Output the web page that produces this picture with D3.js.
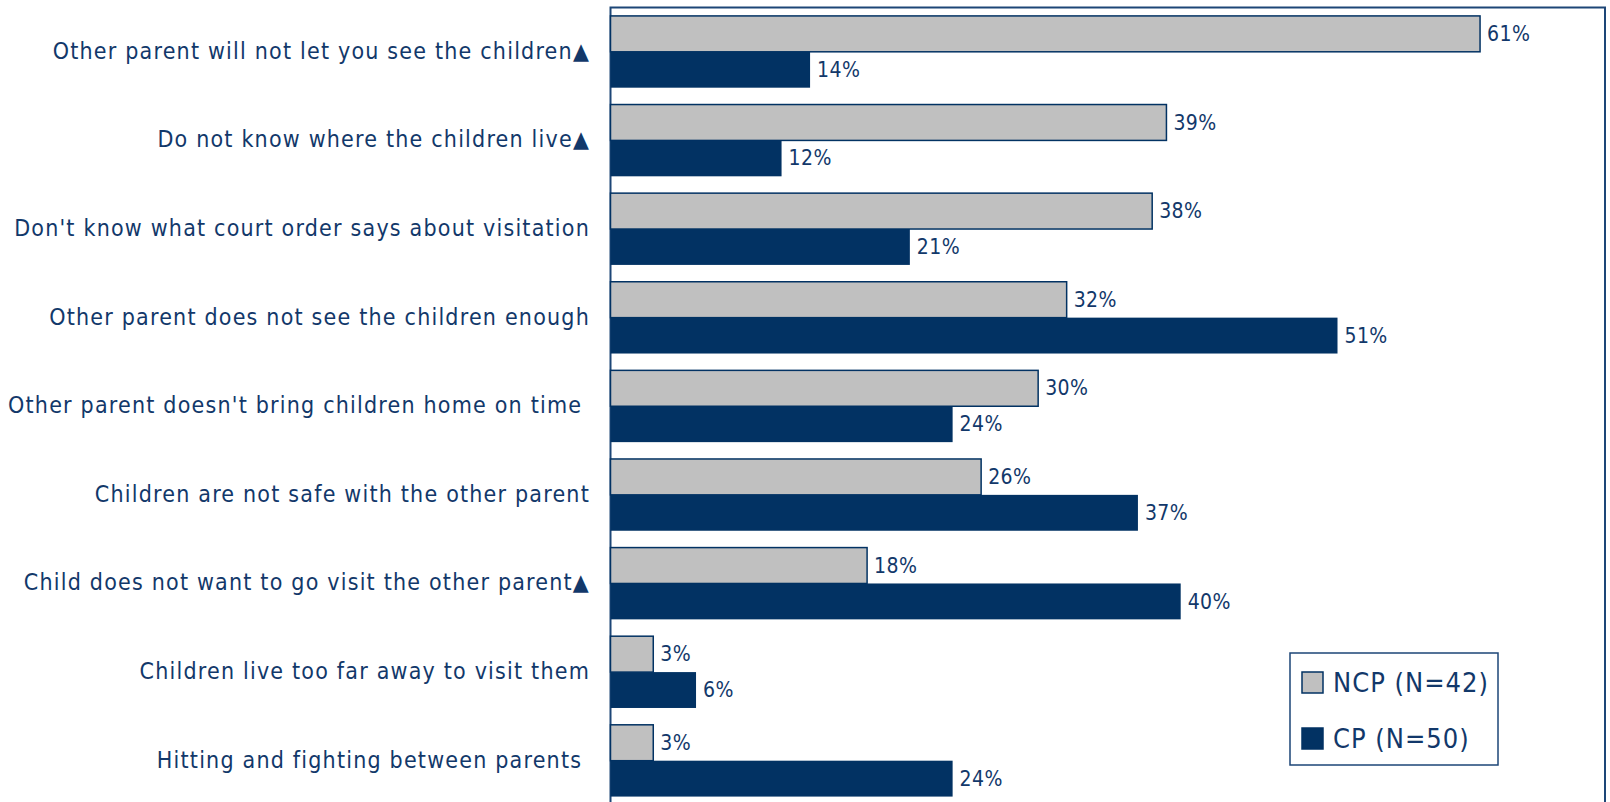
<!DOCTYPE html>
<html><head><meta charset="utf-8">
<script src="https://cdn.jsdelivr.net/npm/d3@7"></script>
<style>
html,body{margin:0;padding:0;background:#fff;overflow:hidden;}
text{font-family:"DejaVu Sans Condensed","DejaVu Sans",sans-serif;}
</style></head>
<body>
<svg id="chart" width="1610" height="802"></svg>
<script>
const categories = [
  "Other parent will not let you see the children▲",
  "Do not know where the children live▲",
  "Don't know what court order says about visitation",
  "Other parent does not see the children enough",
  "Other parent doesn't bring children home on time ",
  "Children are not safe with the other parent",
  "Child does not want to go visit the other parent▲",
  "Children live too far away to visit them",
  "Hitting and fighting between parents "
];
const seriesNames = ["NCP (N=42)", "CP (N=50)"];
const ncpValues = [61, 39, 38, 32, 30, 26, 18, 3, 3];
const cpValues = [14, 12, 21, 51, 24, 37, 40, 6, 24];

const navy = "#023263";
const textColor = "#12386a";
const gray = "#c0c0c0";

const svg = d3.select("#chart");
const plotLeft = 610.5, plotTop = 7.5, plotW = 994.5, plotBottom = 805;

const x = d3.scaleLinear().domain([0, 70]).range([plotLeft, plotLeft + 70 * 14.255]);
const y = d3.scaleBand().domain(categories).range([plotTop, plotBottom]).paddingInner(0.19).paddingOuter(0.095);
const sub = d3.scaleBand().domain(seriesNames).range([0, y.bandwidth()]);

const data = categories.map((c, i) => ({cat: c, vals: [ncpValues[i], cpValues[i]]}));

// frame
svg.append("rect").attr("x", plotLeft).attr("y", plotTop).attr("width", plotW).attr("height", 820)
  .attr("fill", "none").attr("stroke", "#1d4677").attr("stroke-width", 2);

const g = svg.append("g").selectAll("g").data(data).join("g")
  .attr("transform", d => `translate(0,${y(d.cat)})`);

g.selectAll("rect").data(d => d.vals.map((v, k) => ({v, k}))).join("rect")
  .attr("x", x(0))
  .attr("y", d => sub(seriesNames[d.k]))
  .attr("width", d => x(d.v) - x(0))
  .attr("height", sub.bandwidth())
  .attr("fill", d => d.k === 0 ? gray : navy)
  .attr("stroke", d => d.k === 0 ? navy : "none")
  .attr("stroke-width", 1.5);

g.selectAll("text.val").data(d => d.vals.map((v, k) => ({v, k}))).join("text")
  .attr("class", "val")
  .attr("x", d => x(d.v) + 7)
  .attr("y", d => sub(seriesNames[d.k]) + sub.bandwidth() / 2)
  .attr("dy", "0.34em")
  .attr("font-size", 21)
  .attr("letter-spacing", 0.4)
  .attr("fill", textColor)
  .text(d => d.v + "%");

// category labels
svg.append("g").selectAll("text").data(categories).join("text")
  .attr("x", 590)
  .attr("y", d => y(d) + y.bandwidth() / 2)
  .attr("dy", "0.3em")
  .attr("text-anchor", "end")
  .attr("font-size", 23)
  .attr("letter-spacing", 1.2)
  .attr("fill", textColor)
  .style("white-space", "pre")
  .attr("xml:space", "preserve")
  .text(d => d);

// legend
const lg = svg.append("g");
lg.append("rect").attr("x", 1290).attr("y", 653).attr("width", 208).attr("height", 112)
  .attr("fill", "#fff").attr("stroke", "#1d4677").attr("stroke-width", 1.5);
seriesNames.forEach((s, k) => {
  const yy = 672 + k * 56;
  lg.append("rect").attr("x", 1302).attr("y", yy).attr("width", 21).attr("height", 21)
    .attr("fill", k === 0 ? gray : navy).attr("stroke", navy).attr("stroke-width", 1.5);
  lg.append("text").attr("x", 1333).attr("y", yy + 10.5).attr("dy", "0.36em")
    .attr("font-size", 27).attr("letter-spacing", 1).attr("fill", textColor).text(s);
});
</script>
</body></html>
